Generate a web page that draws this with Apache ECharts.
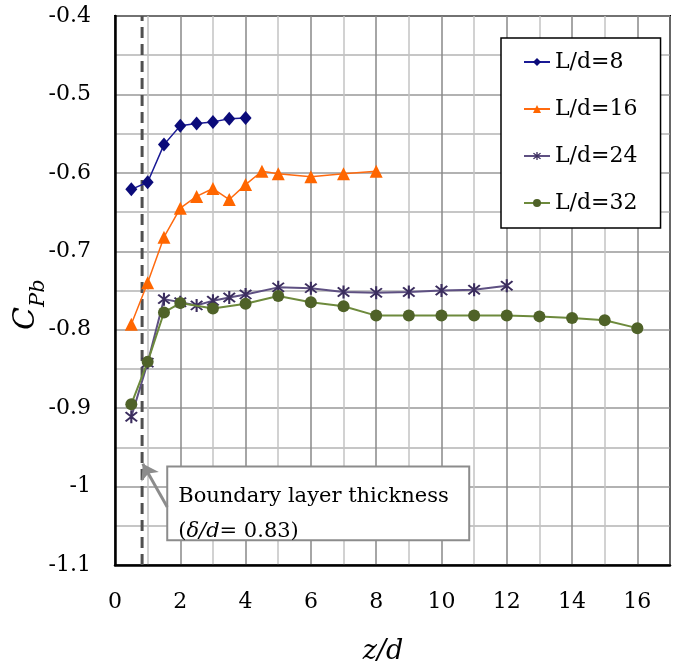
<!DOCTYPE html>
<html><head><meta charset="utf-8">
<script src="https://cdn.jsdelivr.net/npm/echarts@6/dist/echarts.min.js"></script>
<style>html,body{margin:0;padding:0;background:#fff}#c{width:673px;height:668px}</style>
</head><body><div id="c"></div>
<script>
var seriesNames = ['L/d=8','L/d=16','L/d=24','L/d=32'];
var x8  = [0.5,1,1.5,2,2.5,3,3.5,4];
var y8  = [-0.621,-0.612,-0.564,-0.540,-0.537,-0.535,-0.531,-0.530];
var x16 = [0.5,1,1.5,2,2.5,3,3.5,4,4.5,5,6,7,8];
var y16 = [-0.793,-0.740,-0.682,-0.645,-0.630,-0.620,-0.634,-0.615,-0.598,-0.601,-0.605,-0.601,-0.598];
var x24 = [0.5,1,1.5,2,2.5,3,3.5,4,5,6,7,8,9,10,11,12];
var y24 = [-0.911,-0.842,-0.761,-0.765,-0.769,-0.763,-0.759,-0.755,-0.746,-0.747,-0.752,-0.753,-0.752,-0.750,-0.749,-0.744];
var x32 = [0.5,1,1.5,2,3,4,5,6,7,8,9,10,11,12,13,14,15,16];
var y32 = [-0.895,-0.841,-0.778,-0.766,-0.773,-0.767,-0.757,-0.765,-0.770,-0.782,-0.782,-0.782,-0.782,-0.782,-0.783,-0.785,-0.788,-0.798];
var boundaryX = 0.83;
var xTicks = [0,2,4,6,8,10,12,14,16];
var yTicks = [-1.1,-1,-0.9,-0.8,-0.7,-0.6,-0.5,-0.4];
var annotationLine1 = 'Boundary layer thickness';
var annotationValue = '0.83';

function pairs(xs, ys){ return xs.map(function(x,i){ return [x, ys[i]]; }); }
var FONT = 'DejaVu Serif';
var starPath = 'path://M-1.3,-10L1.3,-10L1.3,10L-1.3,10Z M6.15,-8L8,-6.15L-6.15,8L-8,6.15Z M-8,-6.15L-6.15,-8L8,6.15L6.15,8Z';

var chart = echarts.init(document.getElementById('c'), null, {renderer:'canvas'});
var option = {
  animation: false,
  backgroundColor: '#fff',
  grid: {left:115, top:16, right:-3, bottom:103, show:true, borderColor:'#000', borderWidth:2, backgroundColor:'transparent'},
  xAxis: {
    type:'value', min:0, max:17, interval:2,
    axisLine:{show:true, onZero:false, lineStyle:{color:'#000', width:2.5}},
    axisTick:{show:false},
    axisLabel:{fontFamily:FONT, fontSize:22, color:'#000', margin:26,
      formatter:function(v){ return xTicks.indexOf(v) >= 0 ? String(v) : ''; }},
    splitLine:{show:true, lineStyle:{color:'#888', width:1.5}},
    minorTick:{show:false, splitNumber:2},
    minorSplitLine:{show:true, lineStyle:{color:'#c4c4c4', width:1.5}}
  },
  yAxis: {
    type:'value', min:-1.1, max:-0.4, interval:0.1,
    axisLine:{show:true, onZero:false, lineStyle:{color:'#000', width:2.5}},
    axisTick:{show:false},
    axisLabel:{fontFamily:FONT, fontSize:22, color:'#000', margin:24,
      formatter:function(v){ return String(Math.round(v*10)/10); }},
    splitLine:{show:true, lineStyle:{color:'#999', width:1.5}},
    minorTick:{show:false, splitNumber:2},
    minorSplitLine:{show:true, lineStyle:{color:'#b4b4b4', width:1.5}}
  },
  legend: {
    data: seriesNames, orient:'vertical', left:501, top:38,
    padding:[13,23,14,22], itemGap:25, itemWidth:26, itemHeight:10,
    backgroundColor:'#fff', borderColor:'#000', borderWidth:1.5,
    textStyle:{fontFamily:FONT, fontSize:22, color:'#000', lineHeight:22}
  },
  graphic: [
    {type:'text', x:26, y:330, rotation:Math.PI/2,
      style:{text:'C', font:'italic 30px "DejaVu Serif"', fill:'#000', align:'left', verticalAlign:'middle'}},
    {type:'text', x:39, y:307, rotation:Math.PI/2,
      style:{text:'Pb', font:'italic 21px "DejaVu Serif"', fill:'#000', align:'left', verticalAlign:'middle'}},
    {type:'text', x:383, y:652,
      style:{text:'z/d', font:'italic 27px "DejaVu Serif"', fill:'#000', align:'center', verticalAlign:'middle'}}
  ],
  series: [
    {
      name:'boundary', type:'line', data:[[boundaryX,-1.1],[boundaryX,-0.4]],
      symbol:'none', silent:true, z:1,
      lineStyle:{color:'#505050', width:3, type:[11,6]},
      markLine:{
        silent:true, symbol:['none','arrow'], symbolSize:15,
        label:{show:false},
        lineStyle:{color:'#8c8c8c', width:3, type:'solid'},
        data:[[{coord:[1.6,-1.026]},{coord:[0.85,-0.971]}]]
      },
      markArea:{
        silent:true,
        itemStyle:{color:'#fff', borderColor:'#8c8c8c', borderWidth:2},
        label:{show:true, position:'insideTopLeft', distance:0, padding:[13,0,0,12],
          formatter: '{t|' + annotationLine1 + '}\n{t|(}{i|\u03b4/d}{t|= ' + annotationValue + ')}',
          rich:{
            t:{fontFamily:FONT, fontSize:21, color:'#000', lineHeight:35},
            i:{fontFamily:FONT, fontStyle:'italic', fontSize:21, color:'#000', lineHeight:35}
          }},
        data:[[{coord:[1.6,-0.9745]},{coord:[10.85,-1.0686]}]]
      }
    },
    {name:seriesNames[0], type:'line', data:pairs(x8,y8), z:5,
      symbol:'diamond', symbolSize:[12,14],
      lineStyle:{color:'#1a1a95', width:1.5}, itemStyle:{color:'#0b0b7a'}},
    {name:seriesNames[1], type:'line', data:pairs(x16,y16), z:5,
      symbol:'triangle', symbolSize:13,
      lineStyle:{color:'#ff6a0f', width:1.5}, itemStyle:{color:'#ff6600'}},
    {name:seriesNames[2], type:'line', data:pairs(x24,y24), z:5,
      symbol:starPath, symbolSize:13,
      lineStyle:{color:'#5e5082', width:2}, itemStyle:{color:'#3b2d5e'}},
    {name:seriesNames[3], type:'line', data:pairs(x32,y32), z:6,
      symbol:'circle', symbolSize:12,
      lineStyle:{color:'#6d8a3c', width:2}, itemStyle:{color:'#4f6228'}}
  ]
};
chart.setOption(option);
</script>
</body></html>
